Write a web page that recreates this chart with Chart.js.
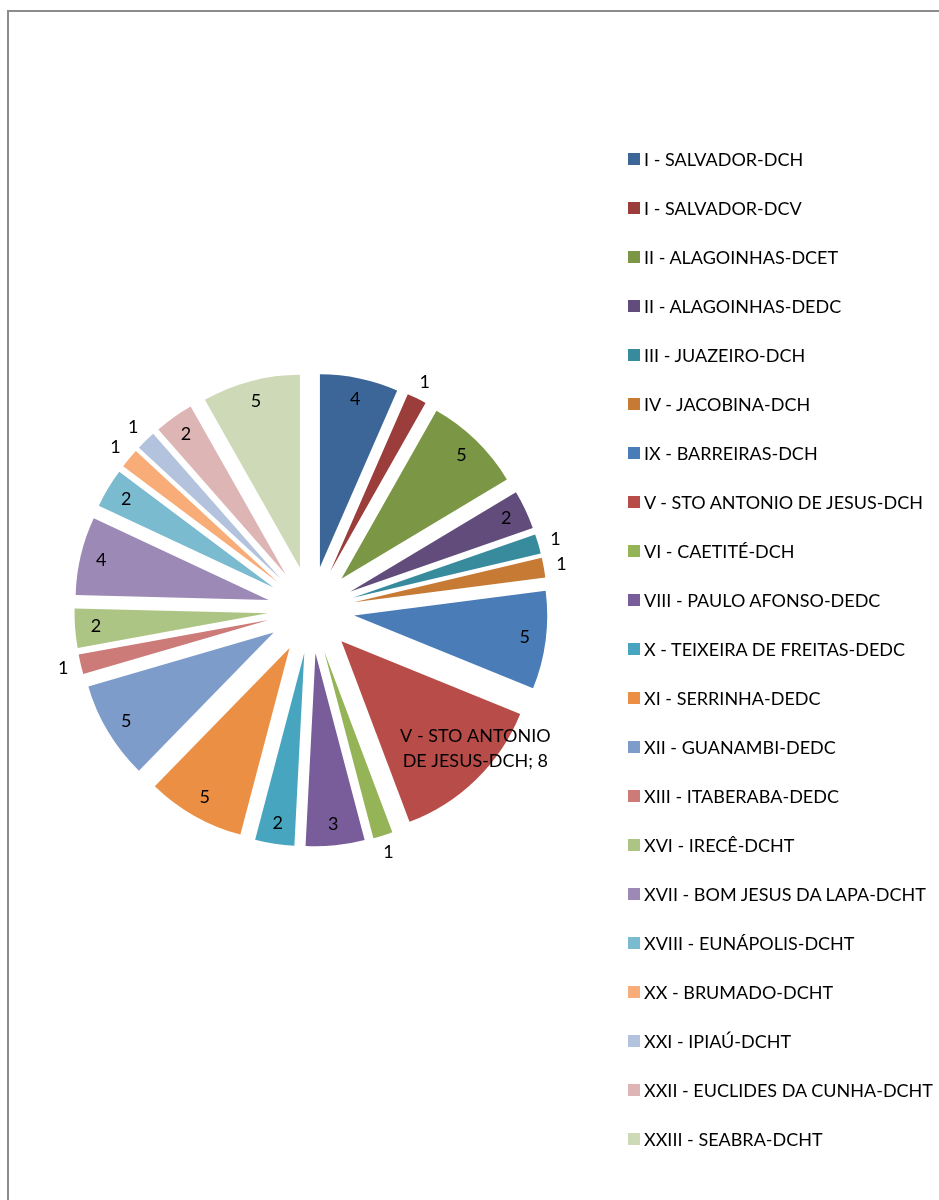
<!DOCTYPE html>
<html lang="pt">
<head>
<meta charset="utf-8">
<title>Campi e departamentos</title>
<script src="https://cdn.jsdelivr.net/npm/chart.js@4.4.1/dist/chart.umd.min.js"></script>
<style>
  html, body { margin: 0; padding: 0; background: #fff; }
  #page { position: relative; width: 939px; height: 1200px; overflow: hidden; font-family: Lato, "Noto Sans", sans-serif; }
  #frame { position: absolute; left: 7px; top: 10px; width: 980px; height: 1240px;
           border-left: 2px solid #8c8c8c; border-top: 2px solid #8c8c8c; }
  #chartBox { position: absolute; left: 0; top: 0; width: 939px; height: 1200px; }
  #legend { position: absolute; left: 628px; top: 0; }
  .item { position: absolute; left: 0; height: 20px; line-height: 20px; white-space: nowrap;
          font-size: 18px; color: #000; }
  .sw { position: absolute; left: 0; top: 4px; width: 12px; height: 12px; }
  .tx { position: absolute; left: 16px; top: 0; }
</style>
</head>
<body>
<div id="page">
  <div id="frame"></div>
  <div id="chartBox"><canvas id="pie"></canvas></div>
  <div id="legend"></div>
</div>
<script>
// Departamentos por campus
const categories = [
  "I - SALVADOR-DCH",
  "I - SALVADOR-DCV",
  "II - ALAGOINHAS-DCET",
  "II - ALAGOINHAS-DEDC",
  "III - JUAZEIRO-DCH",
  "IV - JACOBINA-DCH",
  "IX - BARREIRAS-DCH",
  "V - STO ANTONIO DE JESUS-DCH",
  "VI - CAETITÉ-DCH",
  "VIII - PAULO AFONSO-DEDC",
  "X - TEIXEIRA DE FREITAS-DEDC",
  "XI - SERRINHA-DEDC",
  "XII - GUANAMBI-DEDC",
  "XIII - ITABERABA-DEDC",
  "XVI - IRECÊ-DCHT",
  "XVII - BOM JESUS DA LAPA-DCHT",
  "XVIII - EUNÁPOLIS-DCHT",
  "XX - BRUMADO-DCHT",
  "XXI - IPIAÚ-DCHT",
  "XXII - EUCLIDES DA CUNHA-DCHT",
  "XXIII - SEABRA-DCHT"
];
const counts = [4, 1, 5, 2, 1, 1, 5, 8, 1, 3, 2, 5, 5, 1, 2, 4, 2, 1, 1, 2, 5];
const sliceColors = [
  "#3c6697", "#9b3d3b", "#7b9746", "#624c7c", "#388b9d", "#c77a34",
  "#4a7cb7", "#b84c49", "#94b457", "#785d9a", "#47a5bf", "#ea8f44",
  "#7e9cca", "#cc7b79", "#adc584", "#9c89b5", "#7bbbd0", "#f8ac78",
  "#b4c3dd", "#deb5b5", "#ced9b7"
];

const PIE_RADIUS = 193;
const EXPLODE = 43.6;
const LABEL_FONT = '18px Lato, "Noto Sans", sans-serif';

// Legend (HTML)
const legendEl = document.getElementById('legend');
categories.forEach((name, i) => {
  const item = document.createElement('div');
  item.className = 'item';
  item.style.top = (149 + 49 * i) + 'px';
  const sw = document.createElement('span');
  sw.className = 'sw';
  sw.style.background = sliceColors[i];
  const tx = document.createElement('span');
  tx.className = 'tx';
  tx.textContent = name;
  item.appendChild(sw);
  item.appendChild(tx);
  legendEl.appendChild(item);
});

// Pull every slice out from the centre along its bisector
const explodePlugin = {
  id: 'explode',
  afterDatasetsUpdate(chart) {
    const area = chart.chartArea;
    const cx = (area.left + area.right) / 2;
    const cy = (area.top + area.bottom) / 2;
    chart.getDatasetMeta(0).data.forEach(arc => {
      const mid = (arc.startAngle + arc.endAngle) / 2;
      arc.x = cx + Math.cos(mid) * EXPLODE;
      arc.y = cy + Math.sin(mid) * EXPLODE;
    });
  }
};

function wrapText(ctx, text, maxWidth) {
  const words = text.split(' ');
  const lines = [];
  let line = '';
  words.forEach(w => {
    const test = line ? line + ' ' + w : w;
    if (line && ctx.measureText(test).width > maxWidth) {
      lines.push(line);
      line = w;
    } else {
      line = test;
    }
  });
  if (line) lines.push(line);
  return lines;
}

// Value labels: inside the slice, small slices outside; the largest one also names its category
const valueLabelPlugin = {
  id: 'valueLabels',
  afterDatasetsDraw(chart) {
    const ctx = chart.ctx;
    const data = chart.data.datasets[0].data;
    const maxV = Math.max(...data);
    ctx.save();
    ctx.font = LABEL_FONT;
    ctx.fillStyle = '#000';
    ctx.textAlign = 'center';
    ctx.textBaseline = 'middle';
    chart.getDatasetMeta(0).data.forEach((arc, i) => {
      const v = data[i];
      let mid = (arc.startAngle + arc.endAngle) / 2;
      const R = arc.outerRadius;
      let lines = [String(v)];
      const r = v <= 1 ? R + 18 : R - 21;
      if (v === maxV) {
        // category and value, wrapped, set a little toward the slice's leading edge
        lines = wrapText(ctx, chart.data.labels[i] + '; ' + v, 165);
        mid -= 0.12;
      }
      const x = arc.x + Math.cos(mid) * r;
      const y = arc.y + Math.sin(mid) * r;
      lines.forEach((ln, k) => {
        ctx.fillText(ln, x, y + (k - (lines.length - 1) / 2) * 25);
      });
    });
    ctx.restore();
  }
};

function buildChart() {
  new Chart(document.getElementById('pie'), {
    type: 'pie',
    data: {
      labels: categories,
      datasets: [{
        data: counts,
        backgroundColor: sliceColors,
        borderWidth: 0,
        radius: PIE_RADIUS
      }]
    },
    options: {
      responsive: true,
      maintainAspectRatio: false,
      animation: false,
      events: [],
      layout: { padding: { left: 0, right: 317, top: 20, bottom: 0 } },
      plugins: {
        legend: { display: false },
        tooltip: { enabled: false }
      }
    },
    plugins: [explodePlugin, valueLabelPlugin]
  });
}

// Wait for the label font so the wrapped label is measured with it
if (document.fonts && document.fonts.load) {
  document.fonts.load(LABEL_FONT).then(buildChart, buildChart);
} else {
  buildChart();
}
</script>
</body>
</html>
